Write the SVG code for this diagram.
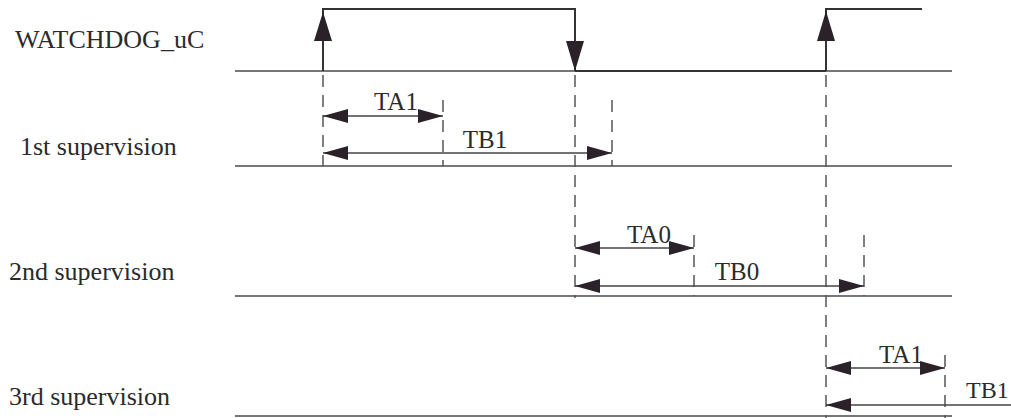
<svg xmlns="http://www.w3.org/2000/svg" width="1011" height="418" viewBox="0 0 1011 418">
<defs>
<style>
text{font-family:'Liberation Serif','Times New Roman','DejaVu Serif',serif;fill:#2b2b2b}
.lbl{font-size:26px}
.tl{font-size:25px;text-anchor:middle}
.axis{stroke:#4a4a4a;stroke-width:1.5;fill:none}
.sig{stroke:#333;stroke-width:2;fill:none}
.dash{stroke:#555;stroke-width:1.5;stroke-dasharray:12 8;fill:none}
.dim{stroke:#444;stroke-width:1.5;fill:none}
.head{fill:#2a2228}
</style>
<marker id="ah" markerUnits="userSpaceOnUse" markerWidth="26" markerHeight="16" refX="25" refY="7" orient="auto-start-reverse">
<path d="M0,0 L25,7 L0,14 z" class="head"/>
</marker>
</defs>
<g id="labels" font-family="Liberation Serif, serif">
<text class="lbl" x="15" y="48">WATCHDOG_uC</text>
<text class="lbl" x="20" y="155">1st supervision</text>
<text class="lbl" x="9" y="280">2nd supervision</text>
<text class="lbl" x="9" y="405">3rd supervision</text>
</g>
<g id="axes">
<line class="axis" x1="235" y1="71" x2="952" y2="71"/>
<line class="axis" x1="235" y1="166" x2="952" y2="166"/>
<line class="axis" x1="235" y1="296" x2="952" y2="296"/>
<line class="axis" x1="235" y1="416" x2="952" y2="416"/>
</g>
<g id="signal">
<path class="sig" d="M323,71 V9 H575 V71"/>
<line class="sig" x1="575" y1="71" x2="826" y2="71" stroke-width="2.5"/>
<path class="sig" d="M826,71 V9 H922"/>
<path class="head" d="M323,12 L314,41 L332,41 z"/>
<path class="head" d="M575,71 L566,41 L584,41 z"/>
<path class="head" d="M826,11 L817,41 L835,41 z"/>
</g>
<g id="guides">
<line class="dash" x1="323" y1="75" x2="323" y2="166"/>
<line class="dash" x1="575" y1="75" x2="575" y2="298"/>
<line class="dash" x1="826" y1="75" x2="826" y2="418"/>
<line class="dash" x1="443" y1="100" x2="443" y2="166"/>
<line class="dash" x1="612" y1="100" x2="612" y2="166"/>
<line class="dash" x1="694" y1="235" x2="694" y2="296"/>
<line class="dash" x1="864" y1="235" x2="864" y2="296"/>
<line class="dash" x1="945" y1="355" x2="945" y2="418"/>
</g>
<g id="connectors">
<line class="dim" x1="323" y1="116" x2="443" y2="116" marker-start="url(#ah)" marker-end="url(#ah)"/>
<line class="dim" x1="323" y1="153" x2="612" y2="153" marker-start="url(#ah)" marker-end="url(#ah)"/>
<line class="dim" x1="575" y1="248" x2="694" y2="248" marker-start="url(#ah)" marker-end="url(#ah)"/>
<line class="dim" x1="575" y1="286" x2="864" y2="286" marker-start="url(#ah)" marker-end="url(#ah)"/>
<line class="dim" x1="826" y1="368" x2="945" y2="368" marker-start="url(#ah)" marker-end="url(#ah)"/>
<line class="dim" x1="826" y1="405" x2="1011" y2="405" marker-start="url(#ah)"/>
</g>
<g id="timing-labels" font-family="Liberation Serif, serif">
<text class="tl" x="396" y="110">TA1</text>
<text class="tl" x="485" y="148">TB1</text>
<text class="tl" x="649" y="243">TA0</text>
<text class="tl" x="737" y="280">TB0</text>
<text class="tl" x="901" y="363">TA1</text>
<text x="966" y="398" font-size="24">TB1</text>
</g>
</svg>
